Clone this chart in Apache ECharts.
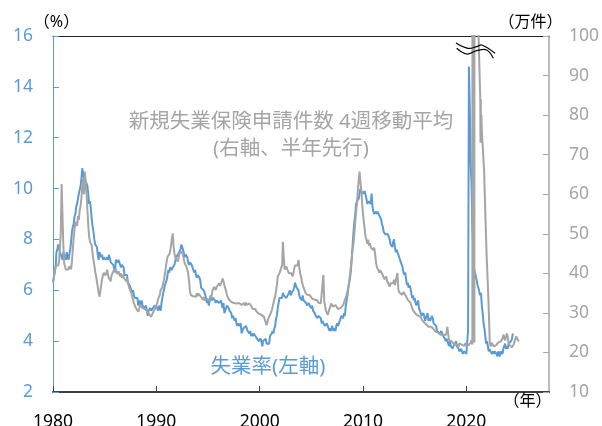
<!DOCTYPE html>
<html>
<head>
<meta charset="utf-8">
<script src="https://cdn.jsdelivr.net/npm/echarts@6.0.0/dist/echarts.min.js"></script>
<style>
html, body { margin: 0; padding: 0; background: #fff; }
#chart { width: 602px; height: 426px; }
</style>
</head>
<body>
<div id="chart"></div>
<script>
// 失業率（月次, %）1980-01 〜 2024-07
const unempRate = [
  6.3, 6.3, 6.3, 6.9, 7.5, 7.6, 7.8, 7.7, 7.5, 7.5, 7.5, 7.2,
  7.5, 7.4, 7.4, 7.2, 7.5, 7.5, 7.2, 7.4, 7.6, 7.9, 8.3, 8.5,
  8.6, 8.9, 9.0, 9.3, 9.4, 9.6, 9.8, 9.8, 10.1, 10.4, 10.8, 10.8,
  10.4, 10.4, 10.3, 10.2, 10.1, 10.1, 9.4, 9.5, 9.2, 8.8, 8.5, 8.3,
  8.0, 7.8, 7.8, 7.7, 7.4, 7.2, 7.5, 7.5, 7.3, 7.4, 7.2, 7.3,
  7.3, 7.2, 7.2, 7.3, 7.2, 7.4, 7.4, 7.1, 7.1, 7.1, 7.0, 7.0,
  6.7, 7.2, 7.2, 7.1, 7.2, 7.2, 7.0, 6.9, 7.0, 7.0, 6.9, 6.6,
  6.6, 6.6, 6.6, 6.3, 6.3, 6.2, 6.1, 6.0, 5.9, 6.0, 5.8, 5.7,
  5.7, 5.7, 5.7, 5.4, 5.6, 5.4, 5.4, 5.6, 5.4, 5.4, 5.3, 5.3,
  5.4, 5.2, 5.0, 5.2, 5.2, 5.3, 5.2, 5.2, 5.3, 5.3, 5.4, 5.4,
  5.4, 5.3, 5.2, 5.4, 5.4, 5.2, 5.5, 5.7, 5.9, 5.9, 6.2, 6.3,
  6.4, 6.6, 6.8, 6.7, 6.9, 6.9, 6.8, 6.9, 6.9, 7.0, 7.0, 7.3,
  7.3, 7.4, 7.4, 7.4, 7.6, 7.8, 7.7, 7.6, 7.6, 7.3, 7.4, 7.4,
  7.3, 7.1, 7.0, 7.1, 7.1, 7.0, 6.9, 6.8, 6.7, 6.8, 6.6, 6.5,
  6.6, 6.6, 6.5, 6.4, 6.1, 6.1, 6.1, 6.0, 5.9, 5.8, 5.6, 5.5,
  5.6, 5.4, 5.4, 5.8, 5.6, 5.6, 5.7, 5.7, 5.6, 5.5, 5.6, 5.6,
  5.6, 5.5, 5.5, 5.6, 5.6, 5.3, 5.5, 5.1, 5.2, 5.2, 5.4, 5.4,
  5.3, 5.2, 5.2, 5.1, 4.9, 5.0, 4.9, 4.8, 4.9, 4.7, 4.6, 4.7,
  4.6, 4.6, 4.7, 4.3, 4.4, 4.5, 4.5, 4.5, 4.6, 4.5, 4.4, 4.4,
  4.3, 4.4, 4.2, 4.3, 4.2, 4.3, 4.3, 4.2, 4.2, 4.1, 4.1, 4.0,
  4.0, 4.1, 4.0, 3.8, 4.0, 4.0, 4.0, 4.1, 3.9, 3.9, 3.9, 3.9,
  4.2, 4.2, 4.3, 4.4, 4.3, 4.5, 4.6, 4.9, 5.0, 5.3, 5.5, 5.7,
  5.7, 5.7, 5.7, 5.9, 5.8, 5.8, 5.8, 5.7, 5.7, 5.7, 5.9, 6.0,
  5.8, 5.9, 5.9, 6.0, 6.1, 6.3, 6.2, 6.1, 6.1, 6.0, 5.8, 5.7,
  5.7, 5.6, 5.8, 5.6, 5.6, 5.6, 5.5, 5.4, 5.4, 5.5, 5.4, 5.4,
  5.3, 5.4, 5.2, 5.2, 5.1, 5.0, 5.0, 4.9, 5.0, 5.0, 5.0, 4.9,
  4.7, 4.8, 4.7, 4.7, 4.6, 4.6, 4.7, 4.7, 4.5, 4.4, 4.5, 4.4,
  4.6, 4.5, 4.4, 4.5, 4.4, 4.6, 4.7, 4.6, 4.7, 4.7, 4.7, 5.0,
  5.0, 4.9, 5.1, 5.0, 5.4, 5.6, 5.8, 6.1, 6.1, 6.5, 6.8, 7.3,
  7.8, 8.3, 8.7, 9.0, 9.4, 9.5, 9.5, 9.6, 9.8, 10.0, 9.9, 9.9,
  9.8, 9.8, 9.9, 9.9, 9.6, 9.4, 9.4, 9.5, 9.5, 9.4, 9.8, 9.3,
  9.1, 9.0, 9.0, 9.1, 9.0, 9.1, 9.0, 9.0, 9.0, 8.8, 8.6, 8.5,
  8.3, 8.3, 8.2, 8.2, 8.2, 8.2, 8.2, 8.0, 7.8, 7.8, 7.7, 7.9,
  8.0, 7.7, 7.5, 7.6, 7.5, 7.5, 7.3, 7.2, 7.2, 7.2, 6.9, 6.7,
  6.6, 6.7, 6.7, 6.2, 6.3, 6.1, 6.2, 6.1, 5.9, 5.7, 5.8, 5.6,
  5.7, 5.5, 5.4, 5.4, 5.6, 5.3, 5.2, 5.1, 5.0, 5.0, 5.1, 5.0,
  4.8, 4.9, 5.0, 5.1, 4.8, 4.9, 4.8, 4.9, 5.0, 4.9, 4.7, 4.7,
  4.7, 4.6, 4.4, 4.4, 4.4, 4.3, 4.3, 4.4, 4.3, 4.2, 4.2, 4.1,
  4.0, 4.1, 4.0, 4.0, 3.8, 4.0, 3.8, 3.8, 3.7, 3.8, 3.8, 3.9,
  4.0, 3.8, 3.8, 3.7, 3.6, 3.6, 3.7, 3.6, 3.5, 3.6, 3.6, 3.6,
  3.5, 3.5, 4.4, 14.8, 13.2, 11.0, 10.2, 8.4, 7.8, 6.8, 6.7, 6.7,
  6.4, 6.2, 6.1, 6.1, 5.8, 5.9, 5.4, 5.1, 4.7, 4.5, 4.2, 3.9,
  4.0, 3.8, 3.6, 3.7, 3.6, 3.6, 3.5, 3.6, 3.5, 3.6, 3.6, 3.5,
  3.4, 3.6, 3.5, 3.4, 3.6, 3.6, 3.5, 3.7, 3.8, 3.9, 3.7, 3.8,
  3.7, 3.9, 3.9, 3.9, 4.0, 4.1, 4.3
]

// 新規失業保険申請件数 4週移動平均（万件, 半年先行させた日付）1980-01 〜 2020-08
const claimsPre = [
  37.8, 39, 40.5, 42, 42.5, 41.5, 42, 43, 43, 50, 62.6, 55,
  47, 42.5, 41.7, 41, 40.5, 40.9, 41, 41.8, 41.5, 41, 43, 46,
  49, 51, 53, 53.5, 52, 54.5, 53.5, 56, 57, 59, 62, 64,
  60, 65.7, 63, 60, 56, 52, 49.2, 48, 48.4, 47, 45, 43.4,
  42, 40.5, 40.1, 38, 36.5, 35, 34.1, 35.5, 37, 38.5, 39.5, 40.1,
  40.1, 39.5, 40, 40.9, 39.5, 38.8, 38.4, 38, 39.5, 40, 40.5, 41,
  40.5, 41, 40.5, 39.8, 40.5, 40.1, 39.2, 40, 38.8, 39.6, 39, 38.8,
  38.8, 38, 38.6, 37.5, 37, 36, 35.5, 35, 34, 33.3, 32.5, 31.8,
  31.5, 31, 30.5, 30.3, 31, 32, 32.5, 31.8, 31.2, 31, 30.8, 31,
  30.7, 30.4, 30.6, 30, 29.6, 29.3, 29, 29.2, 29.5, 30.5, 31, 31.2,
  31.6, 32.5, 33.5, 33, 34.5, 35.8, 35.5, 36.5, 37.5, 38.5, 40, 41.5,
  43, 44.2, 44, 44.8, 45.5, 45, 46, 50.1, 47, 45, 44, 44.2,
  44.2, 43, 44, 45, 44.5, 45.5, 45.5, 44.5, 43.5, 42.5, 42, 41.7,
  41.7, 40, 38, 35.5, 34.5, 34, 35, 34.2, 34.5, 34, 34.1, 35,
  34.2, 34.9, 34.5, 34.9, 34, 33.5, 33.3, 34, 33.2, 33.7, 33, 33.5,
  33.7, 33, 33.4, 33.3, 34, 35.5, 36, 36.6, 36.2, 35.8, 36.5, 37,
  37, 37.5, 36.8, 37.2, 38, 38.7, 38, 37, 36.6, 35.5, 34.5, 34,
  33.5, 33.2, 33.6, 32.8, 33.2, 33, 32.5, 33, 32.6, 32.4, 32.8, 32.2,
  32.5, 32, 32.4, 32, 31.6, 32.3, 32.5, 31.8, 32.6, 32, 31.6, 32.3,
  32.4, 32, 31.8, 31.4, 31, 31.3, 30.7, 31, 30.4, 30.2, 30.5, 29.8,
  29.8, 30.1, 29.5, 29.6, 29, 29, 28.3, 27.6, 26.9, 27.6, 28.5, 29,
  29, 30, 30.6, 31.5, 32.5, 33.5, 34.1, 35.5, 37, 39.2, 39.5, 40,
  40.1, 40.5, 42, 48, 44, 41, 40.9, 41.7, 41, 40.5, 40, 40.5,
  40.5, 40, 39.2, 39.8, 41, 42, 41.5, 42.5, 42, 43.4, 41.5, 40,
  39.2, 38, 37, 36.5, 35.8, 35.2, 35, 34.6, 34.3, 34.1, 34.5, 34,
  34, 33.6, 33.3, 33.6, 33.3, 33, 32.8, 33.2, 32.6, 32.4, 32.8, 32.4,
  32, 32.6, 39.6, 33, 31.6, 30.5, 30, 29.5, 30, 31, 31.6, 32.4,
  32.4, 31.6, 31.2, 31.8, 32, 31.6, 31.5, 31, 31.4, 31, 31.2, 31.2,
  31.5, 32, 32.5, 33.3, 33, 34.5, 35.5, 36.6, 38, 40, 41.7, 44,
  46, 47.6, 50, 53, 55.5, 57.7, 61, 63.5, 65.7, 63, 61, 57.7,
  55, 53, 51, 49.2, 48.5, 47.5, 48.5, 47, 47.6, 46.5, 47, 46,
  45.9, 46.5, 45, 43, 41.7, 42.2, 41.5, 40.2, 40.8, 40.9, 40, 40.3,
  39.5, 38.5, 38.2, 39.2, 38, 37.5, 37.2, 36.6, 37.5, 37, 38, 37.5,
  38.4, 37, 36.6, 37.5, 40.1, 36, 35.2, 35.6, 35.3, 34.6, 34.2, 35.3,
  35.3, 35, 34.2, 34.5, 33.3, 33, 33.6, 32.6, 32, 31.5, 30.7, 30.6,
  30.2, 29.8, 29.9, 30.2, 29.3, 29.4, 29.5, 29, 28.4, 28.2, 27.8, 28.2,
  27.6, 27.2, 27.5, 26.8, 26.5, 26.9, 26.8, 26.5, 26.8, 26.3, 25.9, 25.5,
  25.3, 25.8, 25.7, 25, 24.8, 24.6, 24.5, 24.4, 24.6, 24.5, 24.2, 24.4,
  24.4, 25, 26.5, 24.5, 23.1, 23, 23.1, 22.8, 22.4, 22.6, 22, 22.4,
  22.3, 22.1, 21.6, 21.4, 22.3, 22.6, 22.3, 21.9, 21.5, 21.4, 21.7, 22.4,
  21.6, 21.5, 21.3, 21.9, 22.2, 22.5, 23.1, 22
]

// コロナ期（半年先行の日付, 万件）: 目盛り上限を大きく超える
const claimsCovid = [
  [2020.62, 22.3], [2020.63, 600], [2020.775, 600], [2020.78, 22.5], [2020.785, 600],
  [2021.0, 200], [2021.08, 110], [2021.35, 84], [2021.37, 73], [2021.40, 84],
  [2021.43, 74], [2021.46, 80], [2021.5, 76], [2021.6, 76], [2021.72, 66],
  [2021.85, 54], [2021.97, 44], [2022.1, 36], [2022.18, 30], [2022.27, 22.3],
  [2022.35, 21.5], [2022.42, 22.5]
]

// 2022-07 〜 2025-02
const claimsPost = [
  22.3, 22, 21.5, 21.5, 21.7, 21.9,
  21.9, 22.5, 22, 22.5, 22.8, 22.5, 23.5, 24.5, 24, 23, 22.5, 24.8,
  24, 22.5, 21.9, 21.5, 21.5, 21.3, 21.6, 22, 22.5, 23.5, 24.1, 23.5,
  23, 22.8
]

const leftTicks = { min: 2, max: 16, interval: 2 }
const rightTicks = { min: 10, max: 100, interval: 10 }
const yearTicks = { min: 1980, max: 2028, interval: 10 }

const BLUE = '#5B9BD5'
const GRAY = '#A5A5A5'
const FONT = '"Noto Sans", "Noto Sans CJK JP", sans-serif'

const monthly = (arr, start) => arr.map((v, i) => [start + i / 12, v])

const unempData = monthly(unempRate, 1980)
const claimsData = monthly(claimsPre, 1980)
  .concat(claimsCovid)
  .concat(monthly(claimsPost, 2022.5))

const chart = echarts.init(document.getElementById('chart'))

function txt (text, x, y, size, color) {
  return {
    type: 'text',
    z: 100,
    style: {
      text: text, x: x, y: y,
      fill: color, fontSize: size, fontFamily: FONT,
      align: 'center', verticalAlign: 'middle',
      textAlign: 'center', textVerticalAlign: 'middle'
    }
  }
}

const option = {
  animation: false,
  backgroundColor: '#fff',
  grid: { left: 53, right: 53, top: 36, bottom: 34, outerBoundsMode: 'none', containLabel: false },
  xAxis: [{
    type: 'value',
    min: yearTicks.min,
    max: yearTicks.max,
    interval: yearTicks.interval,
    axisLine: { show: true, lineStyle: { color: '#404040', width: 2 } },
    axisTick: { show: true, inside: true, length: 6, lineStyle: { color: '#404040', width: 1 } },
    axisLabel: {
      color: '#000', fontSize: 17.5, fontFamily: FONT, margin: 21,
      showMaxLabel: false,
      formatter: v => String(v)
    },
    splitLine: { show: false }
  }, {
    type: 'value',
    position: 'top',
    min: yearTicks.min,
    max: yearTicks.max,
    axisLine: { show: true, lineStyle: { color: '#222', width: 1 } },
    axisTick: { show: false },
    axisLabel: { show: false },
    splitLine: { show: false }
  }],
  yAxis: [{
    type: 'value',
    position: 'left',
    min: leftTicks.min,
    max: leftTicks.max,
    interval: leftTicks.interval,
    axisLine: { show: true, lineStyle: { color: BLUE, width: 1 } },
    axisTick: { show: true, inside: true, length: 6, lineStyle: { color: BLUE } },
    axisLabel: { color: BLUE, fontSize: 17.5, fontFamily: FONT, margin: 20 },
    splitLine: { show: false }
  }, {
    type: 'value',
    position: 'right',
    min: rightTicks.min,
    max: rightTicks.max,
    interval: rightTicks.interval,
    axisLine: { show: true, lineStyle: { color: '#A6A6A6', width: 1.5 } },
    axisTick: { show: true, inside: true, length: 6, lineStyle: { color: '#A6A6A6' } },
    axisLabel: { color: GRAY, fontSize: 17.5, fontFamily: FONT, margin: 20 },
    splitLine: { show: false }
  }],
  series: [{
    name: '失業率',
    type: 'line',
    yAxisIndex: 0,
    data: unempData,
    symbol: 'none',
    clip: true,
    lineStyle: { color: BLUE, width: 2 }
  }, {
    name: '新規失業保険申請件数',
    type: 'line',
    yAxisIndex: 1,
    data: claimsData,
    symbol: 'none',
    clip: true,
    lineStyle: { color: GRAY, width: 2 }
  }],
  graphic: [
    txt('（%）', 56.5, 22, 16, '#000'),
    txt('（万件）', 530.5, 22, 16, '#000'),
    txt('（年）', 527.5, 401, 16, '#000'),
    txt('新規失業保険申請件数 4週移動平均', 291, 122, 20.5, GRAY),
    txt('(右軸、半年先行)', 291, 149, 20.5, GRAY),
    txt('失業率(左軸)', 268, 367, 20.5, BLUE)
  ]
}

chart.setOption(option)

// 軸の省略記号（≈）
const p = chart.convertToPixel({ seriesIndex: 1 }, [2020.72, 100])
const upper = [[-17.8, 7], [-5.8, 12.3], [2.9, 10.7], [7.9, 9], [21.2, 17.3]]
const lower = [[-17.1, 12.3], [-7.1, 18], [2.9, 14.7], [12.9, 14], [19.5, 22.3]]
const wave = (pts, id) => ({
  id: id,
  type: 'polyline',
  z: 101,
  shape: { points: pts.map(d => [p[0] + d[0], p[1] + d[1]]), smooth: 0.4 },
  style: { stroke: '#000', lineWidth: 1.2, fill: null }
})
chart.setOption({ graphic: [wave(upper, 'w1'), wave(lower, 'w2')] })
</script>
</body>
</html>
